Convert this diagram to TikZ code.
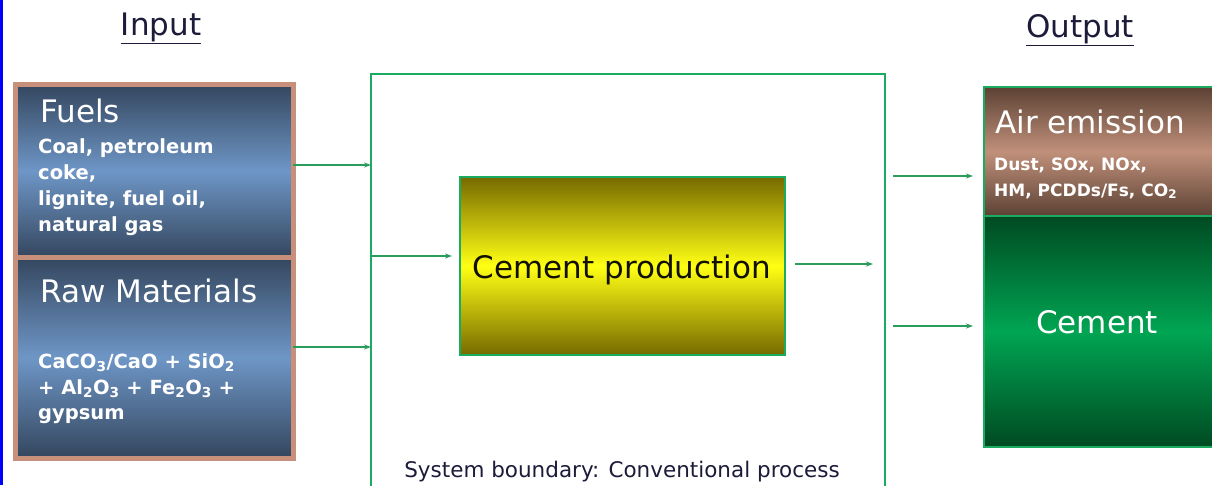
\documentclass[tikz,border=0pt]{standalone}
\usepackage{fontspec}
\setmainfont{DejaVu Sans}
\usetikzlibrary{arrows.meta,calc}
\definecolor{tanb}{HTML}{C8907A}
\definecolor{bluedk}{HTML}{34465E}
\definecolor{bluemd}{HTML}{6E96C6}
\definecolor{bgreen}{HTML}{1AAA60}
\definecolor{agreen}{HTML}{2A9D5C}
\definecolor{olive}{HTML}{766A00}
\definecolor{yel}{HTML}{FFFF14}
\definecolor{browndk}{HTML}{5C4234}
\definecolor{brownmd}{HTML}{C0907A}
\definecolor{greendk}{HTML}{004A22}
\definecolor{greenmd}{HTML}{00A552}
\definecolor{navy}{HTML}{1C1C3A}
\tikzset{
  inbox/.style={draw=tanb, line width=5pt, top color=bluedk, bottom color=bluedk, middle color=bluemd, anchor=north west, inner sep=0pt, outer sep=0pt},
  outbox/.style={draw=bgreen, line width=1.5pt, anchor=north west, inner sep=0pt, outer sep=0pt},
  flow/.style={agreen, line width=1.3pt, -{Stealth[length=7pt,width=5pt]}},
  ttl/.style={anchor=base west, inner sep=0pt, text=white, font=\fontsize{31}{36}\selectfont},
  subl/.style={anchor=base west, inner sep=0pt, text=white, font=\bfseries\fontsize{19.5}{24}\selectfont},
  head/.style={anchor=base, inner sep=0pt, text=navy, font=\fontsize{31}{36}\selectfont}
}
\begin{document}
\begin{tikzpicture}[x=1pt,y=-1pt]
\useasboundingbox (0,0) rectangle (1212,485);
\fill[white] (0,0) rectangle (1212,485);
\draw[blue, line width=3pt] (1.5,0) -- (1.5,485);
% headers
\node[head] (inp) at (161,35) {\underline{Input}};
\node[head] (outp) at (1080,37) {\underline{Output}};
% input boxes
\node[inbox, minimum width=278pt, minimum height=174pt] (fuels) at (15,84) {};
\node[inbox, minimum width=278pt, minimum height=201pt] (raw) at (15,257) {};
\node[ttl] (fuelst) at (40,122) {Fuels};
\node[subl] (f1) at (38,153) {Coal, petroleum};
\node[subl] (f2) at (38,179) {coke,};
\node[subl] (f3) at (38,205) {lignite, fuel oil,};
\node[subl] (f4) at (38,231) {natural gas};
\node[ttl] (rawt) at (40,302) {Raw Materials};
\node[subl] (r1) at (38,368) {CaCO\textsubscript{3}/CaO + SiO\textsubscript{2}};
\node[subl] (r2) at (38,394) {+ Al\textsubscript{2}O\textsubscript{3} + Fe\textsubscript{2}O\textsubscript{3} +};
\node[subl] (r3) at (38,419) {gypsum};
% boundary
\node[draw=bgreen, line width=1.8pt, anchor=north west, minimum width=514pt, minimum height=420pt, inner sep=0pt, outer sep=0pt] (bound) at (371,74) {};
\node[anchor=base, inner sep=0pt, text=navy, font=\fontsize{21.5}{26}\selectfont] (boundt) at (622,477) {System boundary: Conventional process};
% production
\node[draw=bgreen, line width=1.5pt, top color=olive, bottom color=olive, middle color=yel, anchor=north west, minimum width=325pt, minimum height=178pt, inner sep=0pt, outer sep=0pt] (prod) at (460,177) {};
\node[anchor=base, inner sep=0pt, text=black!85!olive, font=\fontsize{31}{36}\selectfont] (prodt) at (622,278) {Cement production};
% outputs
\node[outbox, top color=browndk, bottom color=browndk, middle color=brownmd, minimum width=240pt, minimum height=129pt] (air) at (984,87) {};
\node[outbox, top color=greendk, bottom color=greendk, middle color=greenmd, minimum width=240pt, minimum height=231pt] (cem) at (984,216) {};
\node[ttl] (airt) at (995,133) {Air emission};
\node[subl, font=\bfseries\fontsize{17}{22}\selectfont] (a1) at (994,170) {Dust, SOx, NOx,};
\node[subl, font=\bfseries\fontsize{17}{22}\selectfont] (a2) at (994,196) {HM, PCDDs/Fs, CO\textsubscript{2}};
\node[anchor=base, inner sep=0pt, text=white, font=\fontsize{31}{36}\selectfont] (cemt) at (1097,333) {Cement};
% arrows
\draw[flow] ([yshift=6pt]fuels.east) -- ([yshift=6pt]fuels.east -| bound.west);
\draw[flow] ([yshift=10.5pt]raw.east) -- ([yshift=10.5pt]raw.east -| bound.west);
\draw[flow] ([yshift=10pt]prod.west -| bound.west) -- ([xshift=-8pt,yshift=10pt]prod.west);
\draw[flow] ([xshift=10pt,yshift=2pt]prod.east) -- ([xshift=-12pt,yshift=2pt]prod.east -| bound.east);
\draw[flow] ([xshift=8pt,yshift=-24.5pt]air.west -| bound.east) -- ([xshift=-11pt,yshift=-24.5pt]air.west);
\draw[flow] ([xshift=8pt,yshift=5.5pt]cem.west -| bound.east) -- ([xshift=-11pt,yshift=5.5pt]cem.west);
\end{tikzpicture}
\end{document}
